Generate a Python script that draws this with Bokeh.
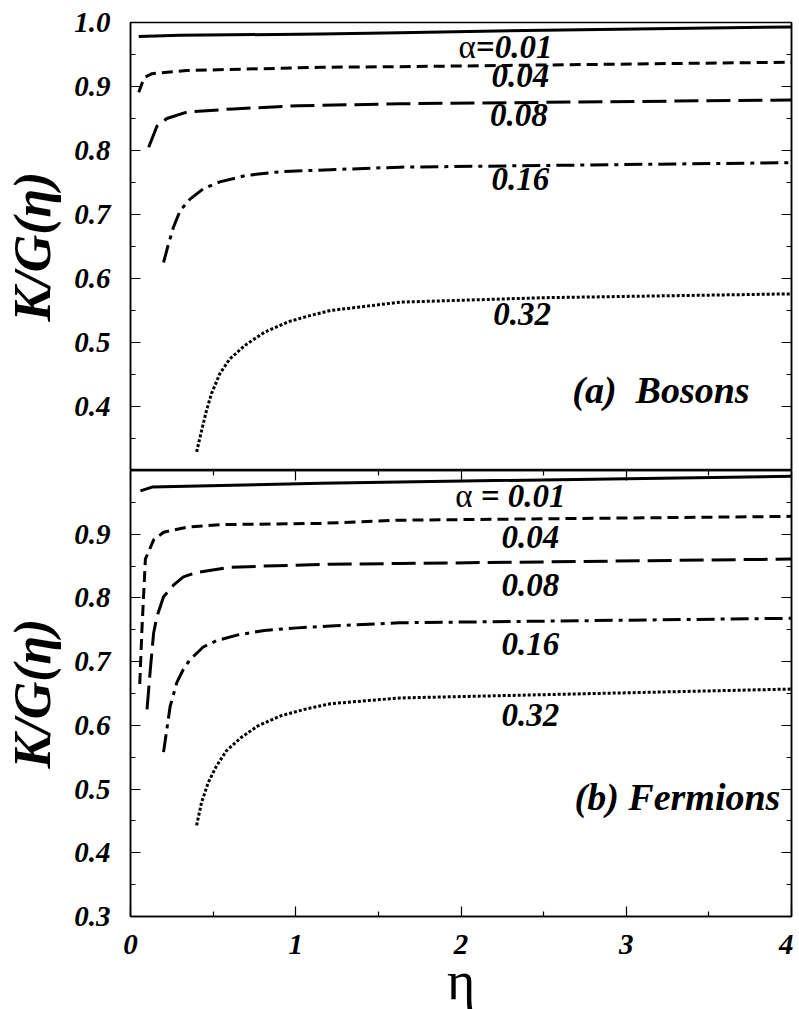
from bokeh.plotting import figure
from bokeh.models import FixedTicker, LinearAxis, Range1d
from bokeh.layouts import column
from bokeh.core.properties import value
from bokeh.embed import file_html
from bokeh.resources import INLINE

FONT = "Liberation Serif"

# ---------------- data ----------------
alphas = ["0.01", "0.04", "0.08", "0.16", "0.32"]

# (a) Bosons
bos_eta_001 = [0.05, 0.30, 1.15, 1.63, 2.50, 4.00]
bos_kg_001 = [0.978, 0.980, 0.982, 0.984, 0.988, 0.993]
bos_eta_004 = [0.05, 0.07, 0.09, 0.13, 0.34, 1.15, 1.63, 4.00]
bos_kg_004 = [0.891, 0.905, 0.915, 0.920, 0.925, 0.930, 0.931, 0.938]
bos_eta_008 = [0.11, 0.16, 0.22, 0.34, 0.62, 1.02, 1.63, 4.00]
bos_kg_008 = [0.805, 0.838, 0.850, 0.860, 0.865, 0.870, 0.873, 0.879]
bos_eta_016 = [0.20, 0.23, 0.26, 0.30, 0.36, 0.44, 0.54, 0.70, 0.91, 1.21, 1.63, 4.00]
bos_kg_016 = [0.625, 0.654, 0.680, 0.706, 0.724, 0.740, 0.751, 0.761, 0.767, 0.770, 0.774, 0.781]
bos_eta_032 = [0.40, 0.43, 0.46, 0.49, 0.54, 0.60, 0.69, 0.81, 0.95, 1.07, 1.21, 1.63, 2.50, 4.00]
bos_kg_032 = [0.329, 0.362, 0.394, 0.420, 0.451, 0.474, 0.495, 0.516, 0.532, 0.541, 0.550, 0.563, 0.570, 0.576]

# (b) Fermions
fer_eta_001 = [0.06, 0.13, 1.15, 1.63, 4.00]
fer_kg_001 = [0.968, 0.974, 0.980, 0.982, 0.991]
fer_eta_004 = [0.056, 0.07, 0.08, 0.09, 0.14, 0.20, 0.34, 0.54, 1.15, 1.63, 4.00]
fer_kg_004 = [0.665, 0.755, 0.807, 0.861, 0.891, 0.903, 0.911, 0.915, 0.917, 0.922, 0.928]
fer_eta_008 = [0.10, 0.12, 0.14, 0.16, 0.20, 0.26, 0.32, 0.40, 0.60, 0.81, 1.21, 1.63, 4.00]
fer_kg_008 = [0.625, 0.688, 0.745, 0.771, 0.802, 0.820, 0.833, 0.840, 0.848, 0.850, 0.853, 0.854, 0.861]
fer_eta_016 = [0.20, 0.24, 0.28, 0.32, 0.36, 0.44, 0.52, 0.65, 0.81, 1.01, 1.21, 1.63, 4.00]
fer_kg_016 = [0.558, 0.630, 0.667, 0.688, 0.703, 0.723, 0.733, 0.742, 0.749, 0.753, 0.756, 0.761, 0.768]
fer_eta_032 = [0.40, 0.43, 0.47, 0.52, 0.58, 0.67, 0.77, 0.91, 1.05, 1.21, 1.63, 4.00]
fer_kg_032 = [0.443, 0.479, 0.510, 0.536, 0.560, 0.581, 0.599, 0.615, 0.625, 0.634, 0.643, 0.657]

x_major = [0, 1, 2, 3, 4]
x_minor = [0.5, 1.5, 2.5, 3.5]
x_labels = ["0", "1", "2", "3", "4"]
top_y_major = [0.4, 0.5, 0.6, 0.7, 0.8, 0.9, 1.0]
top_y_labels = ["0.4", "0.5", "0.6", "0.7", "0.8", "0.9", "1.0"]
bot_y_major = [0.3, 0.4, 0.5, 0.6, 0.7, 0.8, 0.9]
bot_y_labels = ["0.3", "0.4", "0.5", "0.6", "0.7", "0.8", "0.9"]
y_minor = [0.35, 0.45, 0.55, 0.65, 0.75, 0.85, 0.95]

DASHES = ["solid", "11 6", "24 8", "18 6 4 6", "3 2"]


def tick_style(ax, ticks, labels=None):
    ax.major_tick_in = 10
    ax.major_tick_out = 0
    ax.minor_tick_in = 5
    ax.minor_tick_out = 0
    ax.axis_line_color = "black"
    ax.axis_line_width = 1.5
    ax.major_tick_line_width = 1.2
    ax.minor_tick_line_width = 1.2
    ax.major_tick_line_color = "black"
    ax.minor_tick_line_color = "black"
    if labels is not None:
        ax.major_label_overrides = {v: s for v, s in zip(ticks, labels)}
        ax.major_label_text_font = FONT
        ax.major_label_text_font_style = "bold italic"
        ax.major_label_text_font_size = "29px"
        ax.major_label_text_color = "black"
    else:
        ax.major_label_overrides = {v: "" for v in ticks}
        ax.major_label_text_font_size = "1px"
        ax.major_label_standoff = 0


def make_fig(frame_h, y_major, y_labels, border_top, border_bottom, x_axis):
    p = figure(frame_width=661, frame_height=frame_h,
               x_range=Range1d(0, 4), y_range=Range1d(0.3, 1.0),
               x_axis_location=("below" if x_axis else None),
               output_backend="svg", toolbar_location=None,
               min_border_left=130, min_border_right=2,
               min_border_top=border_top, min_border_bottom=border_bottom,
               background_fill_color="white", border_fill_color="white")
    p.grid.visible = False
    p.outline_line_color = "black"
    p.outline_line_width = 1.5
    ya = p.yaxis[0]
    ya.ticker = FixedTicker(ticks=y_major, minor_ticks=y_minor)
    tick_style(ya, y_major, y_labels)
    ya.major_label_standoff = 20
    ya.axis_label = "K/G(η)"
    ya.axis_label_text_font = FONT
    ya.axis_label_text_font_style = "bold italic"
    ya.axis_label_text_font_size = "52px"
    ya.axis_label_text_color = "black"
    ya.axis_label_standoff = 10
    ra = LinearAxis(ticker=FixedTicker(ticks=y_major, minor_ticks=y_minor))
    tick_style(ra, y_major)
    p.add_layout(ra, "right")
    return p


p1 = make_fig(448, top_y_major, top_y_labels, 22, 0, False)
p2 = make_fig(446, bot_y_major, bot_y_labels, 0, 40, True)

xa = p2.xaxis[0]
xa.ticker = FixedTicker(ticks=x_major, minor_ticks=x_minor)
tick_style(xa, x_major, x_labels)
xa.major_label_standoff = 18
xa.axis_label = "η"
xa.axis_label_text_font = FONT
xa.axis_label_text_font_style = "normal"
xa.axis_label_text_font_size = "54px"
xa.axis_label_text_color = "black"
xa.axis_label_standoff = -6
ta = LinearAxis(ticker=FixedTicker(ticks=x_major, minor_ticks=x_minor))
tick_style(ta, x_major)
p2.add_layout(ta, "above")

bos = [(bos_eta_001, bos_kg_001), (bos_eta_004, bos_kg_004), (bos_eta_008, bos_kg_008),
       (bos_eta_016, bos_kg_016), (bos_eta_032, bos_kg_032)]
fer = [(fer_eta_001, fer_kg_001), (fer_eta_004, fer_kg_004), (fer_eta_008, fer_kg_008),
       (fer_eta_016, fer_kg_016), (fer_eta_032, fer_kg_032)]

for p, series in ((p1, bos), (p2, fer)):
    for (xs, ys), dash in zip(series, DASHES):
        p.line(xs, ys, line_color="black", line_width=3, line_dash=dash,
               line_cap="butt", line_join="round")

label_kw = dict(text_font=value(FONT), text_font_style="bold italic",
                text_color="black", text_baseline="middle")
alpha_kw = dict(text_font=value(FONT), text_font_style="normal",
                text_font_size="33px", text_color="black",
                text_baseline="middle", text_align="right")

# curve labels: (a) Bosons
p1.text(x=[2.09], y=[0.9625], text=["α"], **alpha_kw)
p1.text(x=[2.09], y=[0.9625], text=["=" + alphas[0]], text_align="left",
        text_font_size="33px", **label_kw)
p1.text(x=[2.36, 2.35, 2.36, 2.37], y=[0.916, 0.855, 0.756, 0.545],
        text=alphas[1:], text_align="center", text_font_size="33px", **label_kw)
p1.text(x=[3.21], y=[0.426], text=["(a)\u00a0 Bosons"], text_align="center",
        text_font_size="38px", **label_kw)

# curve labels: (b) Fermions
p2.text(x=[2.07], y=[0.9595], text=["α"], **alpha_kw)
p2.text(x=[2.07], y=[0.9595], text=["\u00a0=\u00a0" + alphas[0]], text_align="left",
        text_font_size="33px", **label_kw)
p2.text(x=[2.42, 2.42, 2.42, 2.42], y=[0.895, 0.821, 0.728, 0.6155],
        text=alphas[1:], text_align="center", text_font_size="33px", **label_kw)
p2.text(x=[3.31], y=[0.487], text=["(b) Fermions"], text_align="center",
        text_font_size="38px", **label_kw)

layout = column(p1, p2, spacing=0)
open("out.html", "w").write(file_html(layout, INLINE))
